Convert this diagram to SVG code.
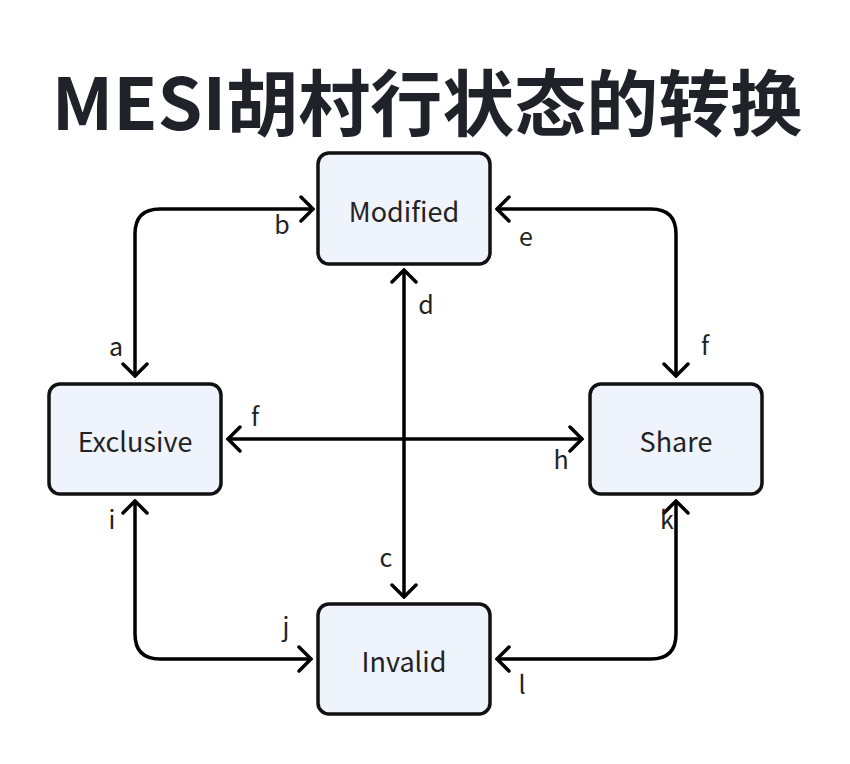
<svg xmlns="http://www.w3.org/2000/svg" width="850" height="764" viewBox="0 0 850 764">
<style>
.node rect{fill:#eef3fc;stroke:#111;stroke-width:3.5}
.node text{font-family:"Noto Sans CJK SC","Noto Sans",sans-serif;font-size:27px;fill:#222;text-anchor:middle;dominant-baseline:central}
.conn path{fill:none;stroke:#000;stroke-width:3.5;marker-start:url(#arr);marker-end:url(#arr)}
.lbl{font-family:"Noto Sans CJK SC","Noto Sans",sans-serif;font-size:25px;fill:#222;text-anchor:middle}
.title{font-family:"Noto Sans CJK SC","Noto Sans",sans-serif;font-weight:700;font-size:72px;fill:#1f2329;text-anchor:middle}
</style>
<defs>
<marker id="arr" viewBox="-14 -14 16 28" markerWidth="16" markerHeight="28" refX="0" refY="0" orient="auto-start-reverse" markerUnits="userSpaceOnUse">
<path d="M-12,-12 L0,0 L-12,12" fill="none" stroke="#000" stroke-width="3.5" stroke-linecap="round" stroke-linejoin="miter"/>
</marker>
</defs>
<rect width="850" height="764" fill="#fff"/>
<text class="title" x="427" y="130">MESI胡村行状态的转换</text>
<g class="conn" id="connectors">
<path d="M313,209 H160 Q135,209 135,234 V376"/>
<path d="M497,209 H651 Q676,209 676,234 V376"/>
<path d="M404,270 V597"/>
<path d="M228,439 H582"/>
<path d="M135,501 V634 Q135,659 160,659 H311"/>
<path d="M676,501 V634 Q676,659 651,659 H497"/>
</g>
<g id="labels">
<text class="lbl" x="282" y="234">b</text>
<text class="lbl" x="116" y="356">a</text>
<text class="lbl" x="526" y="246">e</text>
<text class="lbl" x="705" y="355">f</text>
<text class="lbl" x="426" y="314">d</text>
<text class="lbl" x="386" y="567">c</text>
<text class="lbl" x="255" y="426">f</text>
<text class="lbl" x="561" y="469">h</text>
<text class="lbl" x="112" y="529">i</text>
<text class="lbl" x="286" y="636">j</text>
<text class="lbl" x="667" y="529">k</text>
<text class="lbl" x="522" y="694">l</text>
</g>
<g class="node" id="modified"><rect x="318" y="153" width="172" height="111" rx="11"/><text x="404" y="210">Modified</text></g>
<g class="node" id="exclusive"><rect x="49" y="384" width="172" height="110" rx="11"/><text x="135" y="440">Exclusive</text></g>
<g class="node" id="share"><rect x="590" y="384" width="172" height="110" rx="11"/><text x="676" y="440">Share</text></g>
<g class="node" id="invalid"><rect x="318" y="604" width="172" height="110" rx="11"/><text x="404" y="660">Invalid</text></g>
</svg>
